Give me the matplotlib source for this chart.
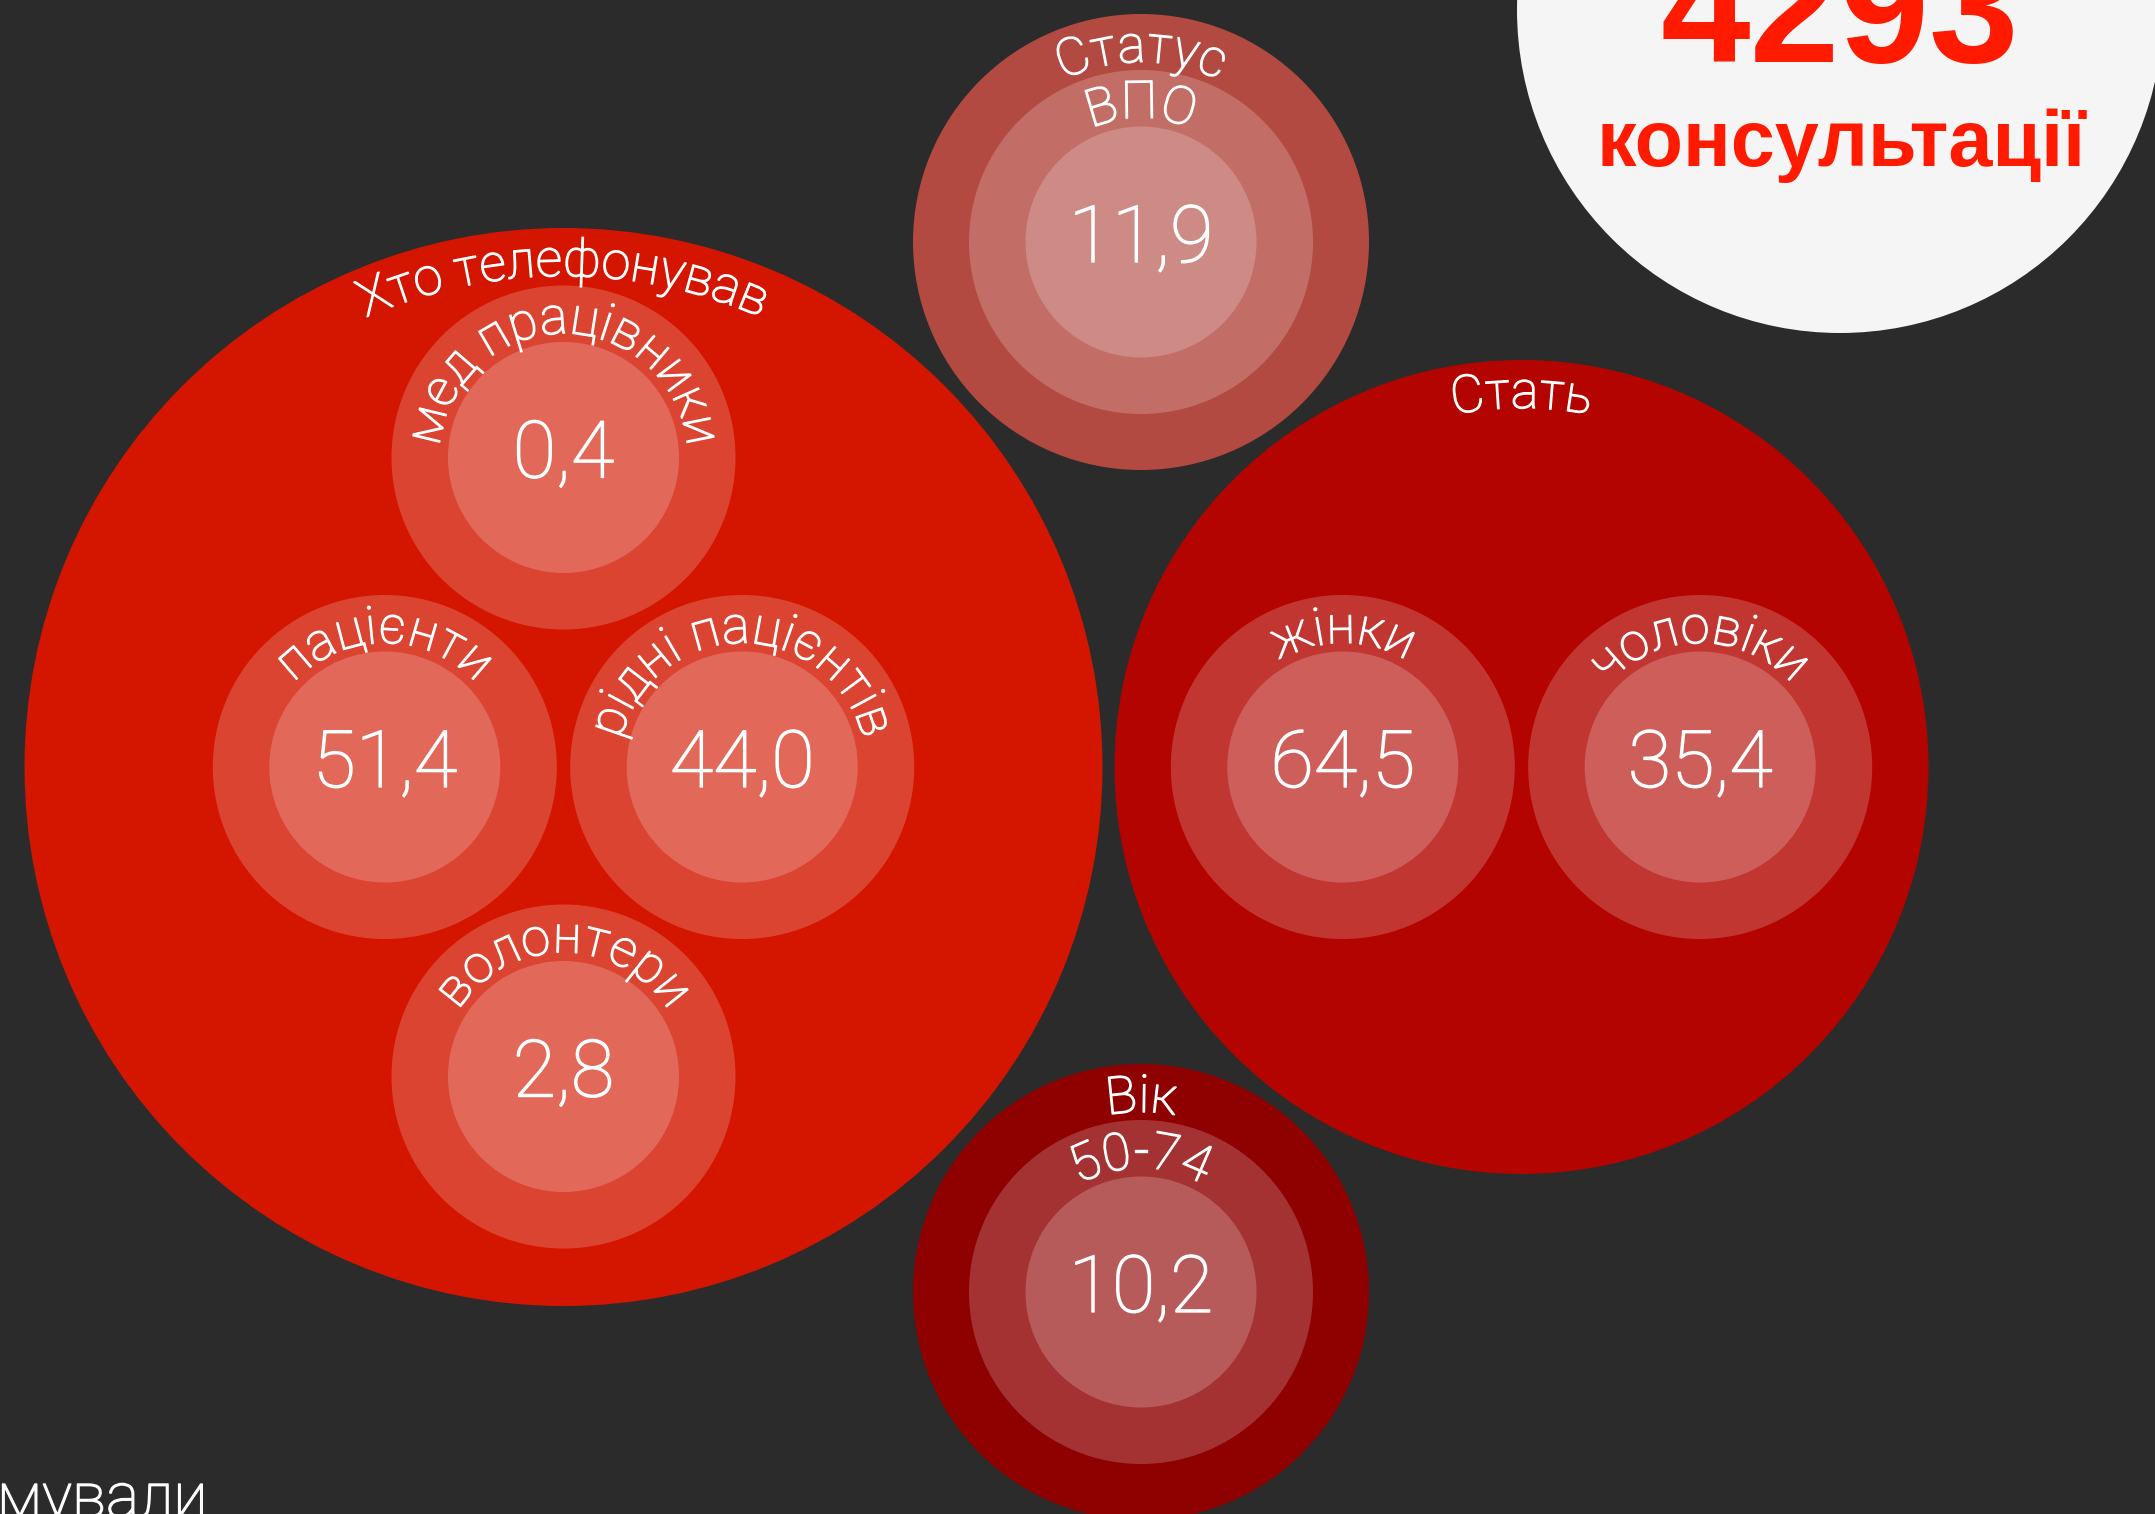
import matplotlib.pyplot as plt
from matplotlib.patches import Circle
from matplotlib.font_manager import FontProperties, findfont
from matplotlib.ft2font import FT2Font
import matplotlib.patheffects as pe
import numpy as np

W, H = 2155, 1514
DPI = 100
BG = '#2b2b2b'

# --- data ---
group_names = ["Хто телефонував", "Статус", "Стать", "Вік"]
group_items = [
    ["мед працівники", "пацієнти", "рідні пацієнтів", "волонтери"],
    ["ВПО"],
    ["жінки", "чоловіки"],
    ["50-74"],
]
group_values = [
    [0.4, 51.4, 44.0, 2.8],
    [11.9],
    [64.5, 35.4],
    [10.2],
]
total_consult = 4293
total_label = "консультації"
footer_text = "мували"

group_colors = ['#d41600', '#b34a42', '#b40400', '#8f0000']

# --- layout (pixels, y down) ---
group_centers = [(563.5, 767), (1141, 242), (1521.5, 767), (1141, 1292)]
group_radius = [539, 228, 407, 228]
CHILD_R = 172
INNER_R = 115.5
CHILD_GAP = 357.4
LABEL_PAD = 48
TOTAL_CIRCLE = ((1840, 10), 323)

LIGHT = FontProperties(family='Roboto', weight='light')
BOLD = FontProperties(family='Liberation Sans', weight='bold')
font_file = findfont(LIGHT)
# Roboto Light is a bit thinner than the original light face, thicken a little
THICK = [pe.withStroke(linewidth=1.0, foreground='white')]


def child_offsets(n, d):
    # simple packing: 1 -> centre, 2 -> side by side, 4 -> diamond
    if n == 1:
        return [(0, 0)]
    if n == 2:
        return [(-d / 2, 0), (d / 2, 0)]
    h = d * np.sqrt(3) / 2
    return [(0, -h), (-d / 2, 0), (d / 2, 0), (0, h)]


def fmt(v):
    return f"{v:.1f}".replace('.', ',')


def arc_text(ax, text, cx, cy, r, size_pt):
    """Text bent along the top of a circle, reading clockwise"""
    font = FT2Font(font_file)
    font.set_size(size_pt * DPI / 72, 72)
    adv = np.array([font.load_char(ord(ch)).linearHoriAdvance / 65536 for ch in text])
    pos = np.cumsum(adv) - adv / 2 - adv.sum() / 2
    for ch, s in zip(text, pos):
        phi = s / r
        ax.text(cx + r * np.sin(phi), cy - r * np.cos(phi), ch,
                fontproperties=LIGHT, fontsize=size_pt, color='white',
                rotation=-np.degrees(phi), rotation_mode='anchor',
                ha='center', va='baseline', path_effects=THICK)


fig = plt.figure(figsize=(W / DPI, H / DPI), dpi=DPI, facecolor=BG)
ax = fig.add_axes([0, 0, 1, 1])
ax.set_xlim(0, W)
ax.set_ylim(H, 0)
ax.axis('off')
ax.set_facecolor(BG)

for name, items, vals, col, (gx, gy), gr in zip(group_names, group_items, group_values,
                                                group_colors, group_centers, group_radius):
    ax.add_patch(Circle((gx, gy), gr, color=col, lw=0))
    arc_text(ax, name, gx, gy, gr - LABEL_PAD, 37.5)
    for item, v, (dx, dy) in zip(items, vals, child_offsets(len(items), CHILD_GAP)):
        x, y = gx + dx, gy + dy
        ax.add_patch(Circle((x, y), CHILD_R, color='white', alpha=0.2, lw=0))
        ax.add_patch(Circle((x, y), INNER_R, color='white', alpha=0.2, lw=0))
        arc_text(ax, item, x, y, CHILD_R - LABEL_PAD, 37.5)
        ax.text(x, y + 20, fmt(v), fontproperties=LIGHT, fontsize=57,
                color='white', ha='center', va='baseline', path_effects=THICK)

(tx, ty), tr = TOTAL_CIRCLE
ax.add_patch(Circle((tx, ty), tr, color='#f5f5f5', lw=0))
ax.text(tx, ty + 52, str(total_consult), fontproperties=BOLD, fontsize=116,
        color='#ff1a00', ha='center', va='baseline')
ax.text(tx + 1, ty + 156, total_label, fontproperties=BOLD, fontsize=57,
        color='#ff1a00', ha='center', va='baseline')

ax.text(-3, H + 3, footer_text, fontproperties=LIGHT, fontsize=45,
        color='white', ha='left', va='baseline', path_effects=THICK)

fig.savefig('out.png', dpi=DPI, facecolor=BG)
